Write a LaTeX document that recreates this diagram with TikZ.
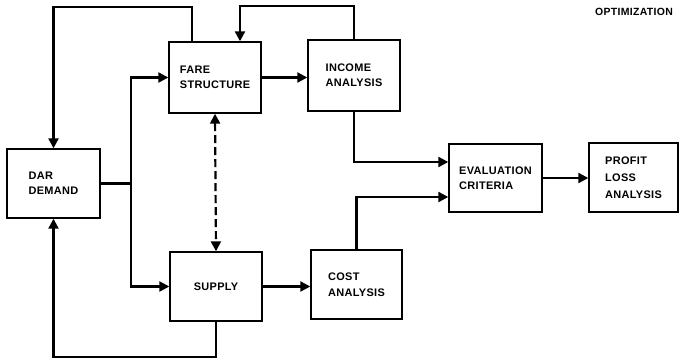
\documentclass[tikz,border=0pt]{standalone}
\usepackage{fontspec}
\newfontfamily\blockfont{Liberation Sans}[LetterSpace=3]
\usetikzlibrary{arrows.meta,calc,positioning}

\tikzset{
	blk/.style={draw, line width=1.4bp, align=left, inner sep=0pt,
		font=\blockfont\bfseries\fontsize{11}{15.5}\selectfont},
	flow/.style={line width=2.2bp, -{Triangle[length=10bp,width=10bp]}},
	link/.style={line width=2.2bp},
	twoway/.style={line width=2.2bp, dash pattern=on 8bp off 4bp,
		{Triangle[length=10bp,width=10bp]}-{Triangle[length=10bp,width=10bp]}}
}

\begin{document}
\begin{tikzpicture}[x=1bp,y=-1bp]
	\useasboundingbox (0,0) rectangle (679,363);
	%
	\node[blk, minimum width=93bp, minimum height=69bp] (dar) at (53.5,183.5) {DAR\\DEMAND};
	\node[blk, minimum width=92bp, minimum height=71bp] (fare) at (215,77.5) {FARE\\STRUCTURE};
	\node[blk, minimum width=92bp, minimum height=71bp] (income) at (354,75.5) {INCOME\\ANALYSIS};
	\node[blk, minimum width=92bp, minimum height=69bp] (supply) at (216,286.5) {SUPPLY};
	\node[blk, minimum width=91bp, minimum height=69bp] (cost) at (356.5,284.5) {COST\\ANALYSIS};
	\node[blk, minimum width=93bp, minimum height=68bp] (eval) at (495.5,178) {EVALUATION\\CRITERIA};
	\node[blk, minimum width=89bp, minimum height=69bp, font=\blockfont\bfseries\fontsize{11}{17}\selectfont] (profit) at (633.5,177.5) {PROFIT\\LOSS\\ANALYSIS};
	\node[font=\blockfont\bfseries\fontsize{10.5}{12}\selectfont, anchor=base west, inner sep=0pt] (optim) at (595,15) {OPTIMIZATION};
	\coordinate (trunk) at (131,182);
	%
	\draw[flow] ([xshift=-23bp]fare.north) -- ++(0,-34) -| (dar.north);
	\draw[flow] (income.north) -- ++(0,-33) -| ([xshift=25bp]fare.north);
	\draw[flow] (fare.east) -- (fare.east -| income.west);
	\draw[link] (dar.east) -- (dar.east -| trunk);
	\draw[flow] (dar.east -| trunk) |- (fare.west);
	\draw[flow] (dar.east -| trunk) |- (supply.west);
	\draw[twoway] (fare.south) -- (supply.north);
	\draw[flow] (supply.east) -- (supply.east -| cost.west);
	\draw[flow] (supply.south) -- ++(0,35) -| (dar.south);
	\draw[flow] (income.south) |- ([yshift=16bp]eval.west);
	\draw[flow] (cost.north) |- ([yshift=-19bp]eval.west);
	\draw[flow] (eval.east) -- (eval.east -| profit.west);
\end{tikzpicture}
\end{document}
